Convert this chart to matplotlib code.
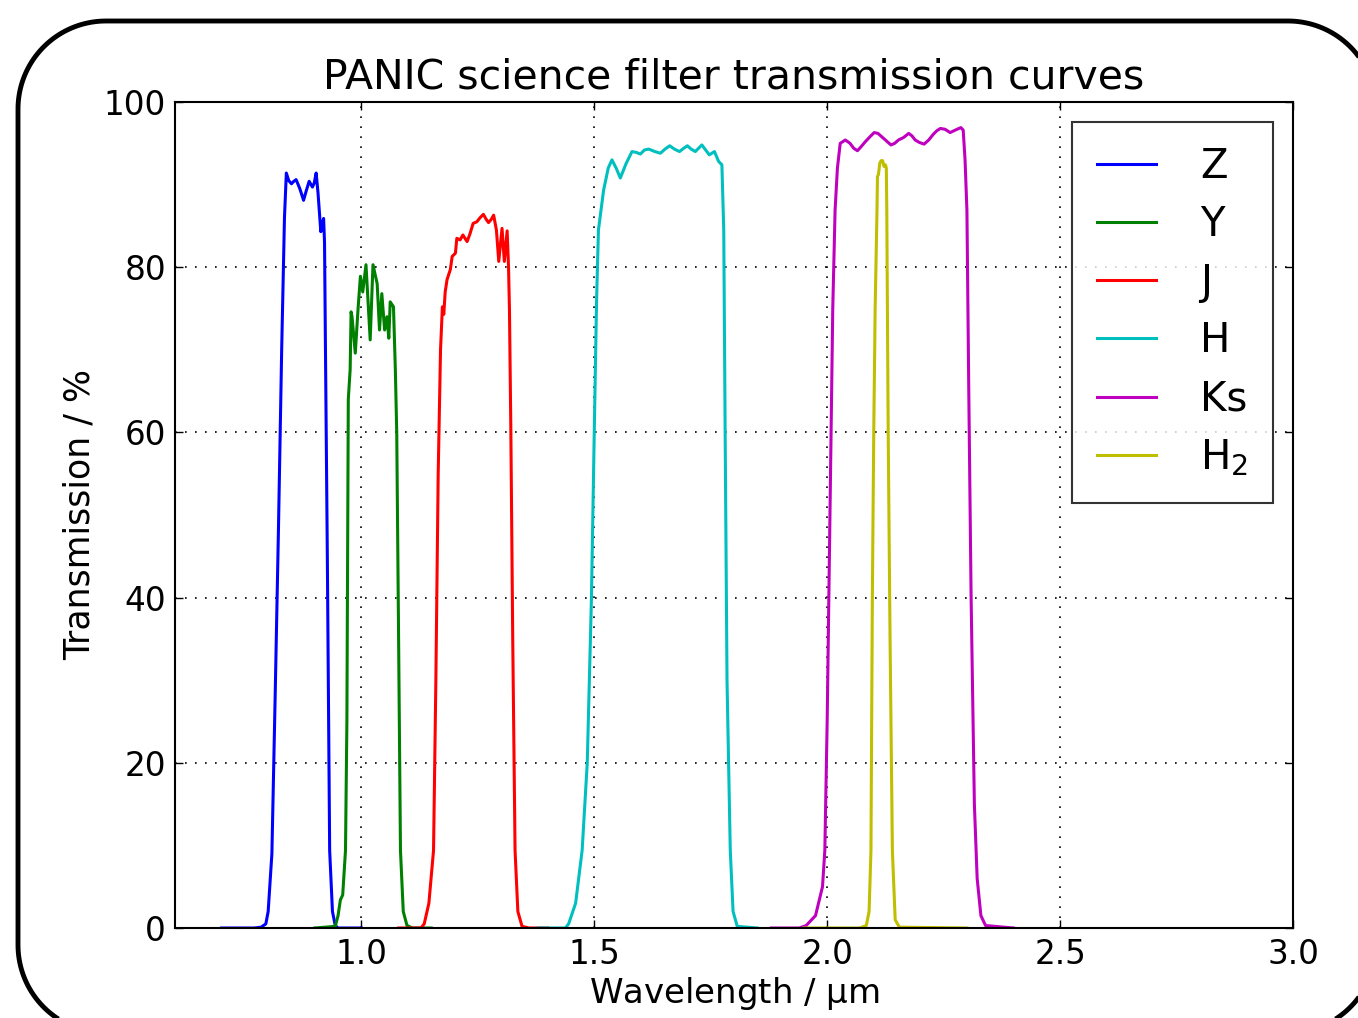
"""
PANIC science filter transmission curves (Z, Y, J, H, Ks, H2).
"""

import matplotlib

matplotlib.use("Agg")
import numpy as np
import matplotlib.pyplot as plt
from matplotlib.patches import Polygon

# wavelength in micron / transmission in percent
z_wl = [0.70, 0.77, 0.785, 0.795, 0.800, 0.808, 0.815, 0.822, 0.829, 0.835,
        0.839, 0.844, 0.850, 0.855, 0.860, 0.868, 0.876, 0.882, 0.888, 0.895,
        0.899, 0.903, 0.907, 0.913, 0.916, 0.919, 0.921, 0.923, 0.927, 0.932,
        0.938, 0.944, 0.950, 1.00]
z_tr = [0.0, 0.0, 0.1, 0.5, 2.0, 9.0, 28.0, 48.0, 70.0, 86.0,
        91.4, 90.5, 90.1, 90.4, 90.6, 89.5, 88.1, 89.3, 90.4, 89.7,
        90.2, 91.4, 89.0, 84.3, 85.2, 85.9, 83.0, 70.0, 45.0, 9.4,
        2.0, 0.3, 0.0, 0.0]

y_wl = [0.90, 0.944, 0.950, 0.955, 0.960, 0.966, 0.969, 0.972, 0.976, 0.978,
        0.980, 0.987, 0.993, 0.998, 1.003, 1.010, 1.019, 1.025, 1.034, 1.039,
        1.044, 1.050, 1.055, 1.059, 1.062, 1.069, 1.073, 1.076, 1.080, 1.084,
        1.090, 1.098, 1.11, 1.15]
y_tr = [0.0, 0.2, 1.5, 3.4, 4.0, 9.4, 25.0, 64.0, 67.6, 74.6,
        74.0, 69.6, 75.0, 78.9, 77.0, 80.3, 71.2, 80.3, 78.0, 72.4,
        76.8, 72.4, 74.0, 71.4, 75.8, 75.2, 67.6, 60.0, 35.0, 9.4,
        2.0, 0.3, 0.0, 0.0]

j_wl = [1.08, 1.128, 1.135, 1.145, 1.155, 1.160, 1.165, 1.170, 1.174, 1.177,
        1.180, 1.184, 1.191, 1.195, 1.202, 1.205, 1.212, 1.218, 1.227, 1.233,
        1.240, 1.248, 1.255, 1.262, 1.268, 1.273, 1.279, 1.284, 1.290, 1.295,
        1.302, 1.307, 1.313, 1.316, 1.318, 1.321, 1.325, 1.330, 1.336, 1.345,
        1.36, 1.40]
j_tr = [0.0, 0.0, 0.5, 3.0, 9.4, 30.0, 55.0, 70.0, 75.2, 74.3,
        77.0, 78.5, 79.7, 81.3, 81.7, 83.5, 83.3, 83.9, 83.1, 84.0,
        85.3, 85.5, 86.0, 86.4, 85.8, 85.4, 85.8, 86.3, 84.5, 80.7,
        84.7, 80.7, 84.4, 80.0, 74.8, 60.0, 35.0, 9.4, 2.0, 0.2,
        0.0, 0.0]

h_wl = [1.38, 1.438, 1.445, 1.460, 1.474, 1.485, 1.494, 1.500, 1.505, 1.509,
        1.520, 1.530, 1.538, 1.547, 1.556, 1.568, 1.581, 1.590, 1.599, 1.608,
        1.617, 1.630, 1.642, 1.652, 1.662, 1.672, 1.683, 1.692, 1.700, 1.708,
        1.717, 1.724, 1.731, 1.739, 1.747, 1.758, 1.767, 1.774, 1.778, 1.781,
        1.785, 1.792, 1.798, 1.807, 1.85]
h_tr = [0.0, 0.0, 0.5, 3.0, 9.4, 20.0, 40.0, 60.0, 76.0, 84.5,
        89.3, 92.0, 93.0, 92.0, 90.8, 92.5, 94.0, 93.9, 93.7, 94.2,
        94.3, 94.0, 93.8, 94.3, 94.7, 94.3, 94.0, 94.4, 94.7, 94.3,
        94.0, 94.4, 94.8, 94.2, 93.6, 94.0, 92.8, 92.4, 84.5, 60.0,
        30.0, 9.4, 2.0, 0.2, 0.0]

ks_wl = [1.88, 1.94, 1.955, 1.975, 1.990, 1.995, 2.000, 2.006, 2.012, 2.017,
         2.022, 2.028, 2.039, 2.049, 2.057, 2.065, 2.073, 2.082, 2.092, 2.101,
         2.109, 2.117, 2.127, 2.137, 2.145, 2.153, 2.164, 2.175, 2.182, 2.189,
         2.198, 2.208, 2.218, 2.228, 2.235, 2.243, 2.253, 2.264, 2.275, 2.287,
         2.292, 2.296, 2.300, 2.304, 2.309, 2.316, 2.322, 2.330, 2.340, 2.40]
ks_tr = [0.0, 0.0, 0.3, 1.5, 5.0, 9.4, 25.0, 50.0, 75.0, 86.9,
         92.0, 95.0, 95.4, 95.0, 94.4, 94.1, 94.6, 95.2, 95.8, 96.3,
         96.2, 95.8, 95.3, 94.8, 95.0, 95.4, 95.7, 96.2, 95.9, 95.4,
         95.1, 94.9, 95.4, 96.1, 96.5, 96.8, 96.7, 96.3, 96.6, 96.9,
         96.6, 93.0, 86.9, 65.0, 40.0, 15.0, 6.0, 1.5, 0.3, 0.0]

h2_wl = [1.95, 2.07, 2.084, 2.090, 2.094, 2.097, 2.100, 2.103, 2.107, 2.108,
         2.110, 2.113, 2.116, 2.119, 2.122, 2.125, 2.127, 2.128, 2.131, 2.135,
         2.140, 2.146, 2.155, 2.30]
h2_tr = [0.0, 0.0, 0.3, 2.0, 9.4, 40.0, 60.0, 75.0, 87.0, 91.0,
         91.2, 92.6, 92.9, 92.9, 92.2, 92.4, 92.0, 86.9, 60.0, 35.0,
         9.4, 1.0, 0.1, 0.0]

filters = [
    ("Z", z_wl, z_tr, "b"),
    ("Y", y_wl, y_tr, "g"),
    ("J", j_wl, j_tr, "r"),
    ("H", h_wl, h_tr, "c"),
    ("Ks", ks_wl, ks_tr, "m"),
    (r"H$_2$", h2_wl, h2_tr, "y"),
]

plt.rcParams["font.family"] = "DejaVu Sans"
plt.rcParams["mathtext.default"] = "regular"

W, H = 1358, 1018
fig = plt.figure(figsize=(W / 100, H / 100), dpi=100)
ax = fig.add_axes([175 / W, 90 / H, 1118 / W, 826 / H])

for name, wl, tr, col in filters:
    ax.plot(wl, tr, color=col, lw=2.2, label=name)

ax.set_xlim(0.6, 3.0)
ax.set_ylim(0, 100)
ax.set_xticks([1.0, 1.5, 2.0, 2.5, 3.0])
ax.set_yticks([0, 20, 40, 60, 80, 100])
ax.set_xticklabels(["1.0", "1.5", "2.0", "2.5", "3.0"])
ax.grid(True, color="k", linestyle=(0, (1, 5)), linewidth=1.2)
ax.tick_params(direction="in", length=6, width=1, top=True, right=True,
               labelsize=23.5)
ax.tick_params(axis="x", pad=7)
ax.tick_params(axis="y", pad=6.5)
for sp in ax.spines.values():
    sp.set_linewidth(1.5)

ax.set_title("PANIC science filter transmission curves", fontsize=29.5, pad=10)
ax.set_xlabel(r"Wavelength / $\mu$m", fontsize=24.5, labelpad=3)
ax.set_ylabel("Transmission / %", fontsize=25, labelpad=5)

leg = ax.legend(loc="upper right", fontsize=29, fancybox=False,
                handlelength=1.45, handletextpad=1.1, labelspacing=0.45,
                borderpad=0.62, borderaxespad=0.5)
leg.get_frame().set_edgecolor("k")
leg.get_frame().set_linewidth(1.5)

# rounded frame around the whole picture, built in pixel coordinates
x0, x1, top, bot, rad = 18, 1376, 21, 1033, 88
t = np.linspace(0, np.pi / 2, 40)
corners = [
    (x0 + rad, top + rad, np.pi + t),               # top left
    (x1 - rad, top + rad, -np.pi / 2 + t),          # top right
    (x1 - rad, bot - rad, t),                       # bottom right
    (x0 + rad, bot - rad, np.pi / 2 + t),           # bottom left
]
pts = []
for cx, cy, ang in corners:
    for a in ang:
        pts.append(((cx + rad * np.cos(a)) / W, 1 - (cy + rad * np.sin(a)) / H))
frame = Polygon(pts, closed=True, facecolor="none", edgecolor="k", lw=3.5,
                transform=fig.transFigure, clip_on=False, joinstyle="round")
fig.patches.append(frame)

plt.savefig("out.png", dpi=100)
